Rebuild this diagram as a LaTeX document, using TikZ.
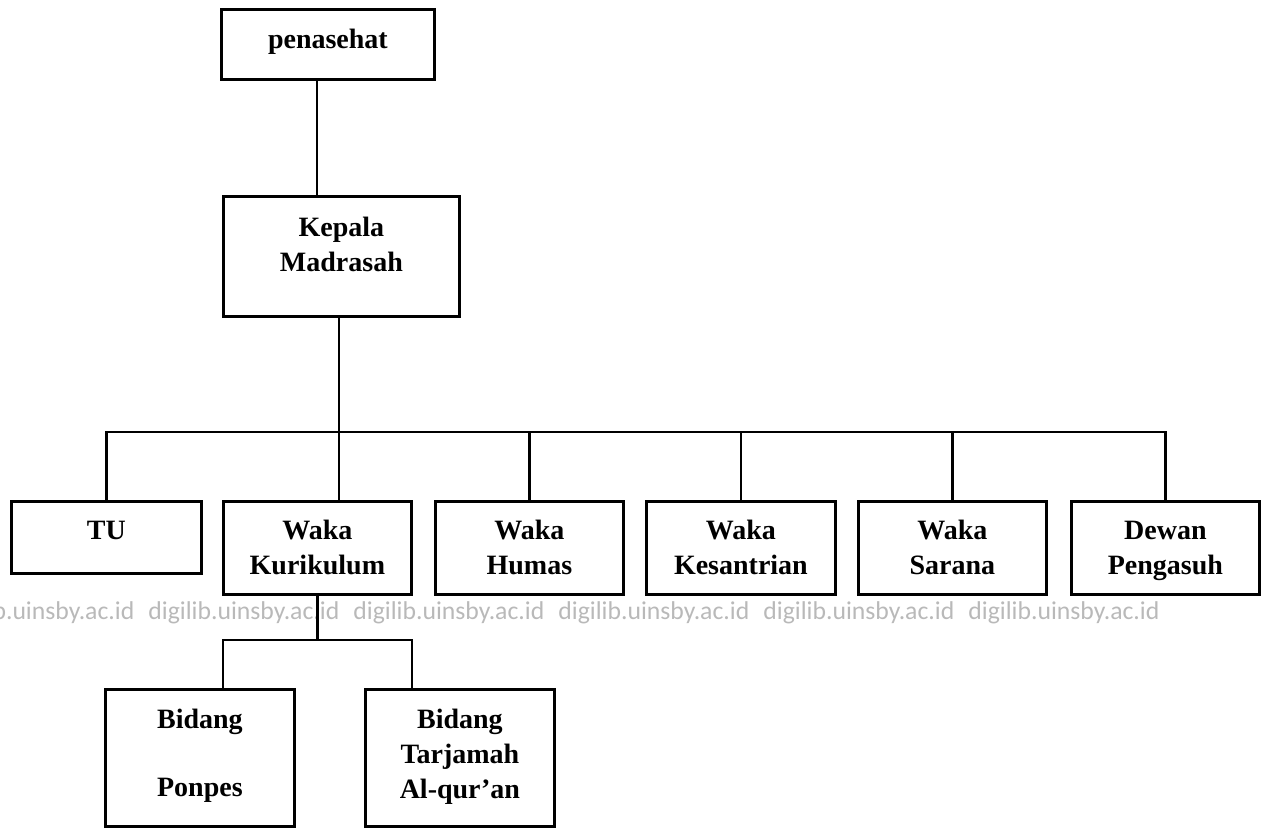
\documentclass[tikz,border=0pt]{standalone}
\usepackage{fontspec}
\setmainfont{Liberation Serif}
\newfontfamily\wmfont{Carlito}
\definecolor{wmgray}{RGB}{185,185,185}
\tikzset{
  box/.style={draw, line width=2.8pt, inner sep=0pt, anchor=north west, align=center,
    font=\bfseries\fontsize{28}{35}\selectfont},
  wm/.style={text=wmgray, inner sep=0pt, anchor=base west, font=\wmfont\fontsize{25.7}{30}\selectfont}
}
\begin{document}
\begin{tikzpicture}[x=1pt,y=-1pt,line width=2.8pt]
\useasboundingbox (0,0) rectangle (1263,827);

%watermark
\foreach \i in {0,...,5}
  \node[wm] (wm\i) at (-58+205*\i,619) {digilib.uinsby.ac.id};

%boxes
\node[box, text width=213pt, text height=39pt, text depth=31pt] (pen) at (220,8) {penasehat};
\node[box, text width=236pt, text height=40pt, text depth=80pt] (kep) at (222,195) {Kepala\\Madrasah};
\node[box, text width=190pt, text height=38pt, text depth=34pt] (tu) at (10,500) {TU};
\node[box, text width=188pt, text height=38pt, text depth=55pt] (kur) at (222,500) {Waka\\Kurikulum};
\node[box, text width=188pt, text height=38pt, text depth=55pt] (hum) at (434,500) {Waka\\Humas};
\node[box, text width=189pt, text height=38pt, text depth=55pt] (kes) at (645,500) {Waka\\Kesantrian};
\node[box, text width=188pt, text height=38pt, text depth=55pt] (sar) at (857,500) {Waka\\Sarana};
\node[box, text width=188pt, text height=38pt, text depth=55pt] (dew) at (1070,500) {Dewan\\Pengasuh};
\node[box, text width=189pt, text height=39pt, text depth=98pt] (pon) at (104,688) {Bidang\\[33pt]Ponpes};
\node[box, text width=189pt, text height=39pt, text depth=98pt] (tar) at (364,688) {Bidang\\Tarjamah\\Al-qur’an};

%connectors
\coordinate (pendrop) at (317,0);
\coordinate (bus) at (339,432);
\coordinate (subL) at (223,640);
\coordinate (subR) at (412,640);

\draw (pen.south -| pendrop) -- (kep.north -| pendrop);
\draw (kep.south -| bus) -- (kur.north -| bus);
\draw (tu.north) |- (dew.north |- bus) -- (dew.north);
\foreach \n in {hum,kes,sar}
  \draw (\n.north |- bus) -- (\n.north);
\draw (kur.south) -- (kur.south |- subL);
\draw (pon.north -| subL) |- (subR) -- (tar.north -| subR);

\end{tikzpicture}
\end{document}
